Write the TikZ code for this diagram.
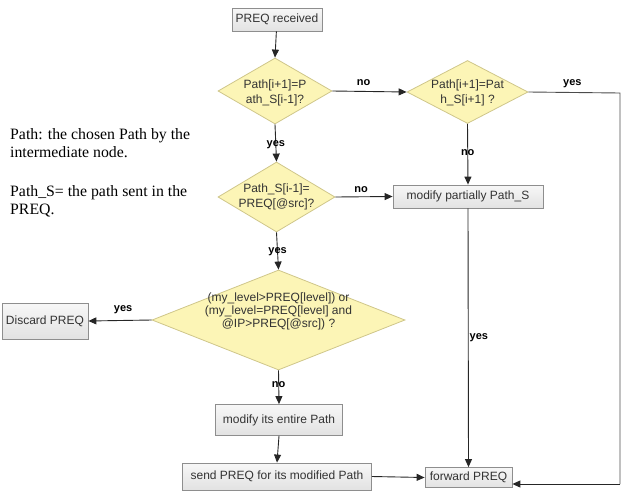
\documentclass[tikz,border=0pt]{standalone}
\usepackage{fontspec}
\setmainfont{Liberation Serif}
\newfontfamily\flowfont{Liberation Sans}
\usetikzlibrary{shapes.geometric,arrows.meta}

\definecolor{boxline}{HTML}{8E8E8E}
\definecolor{boxtop}{HTML}{F7F7F7}
\definecolor{boxbot}{HTML}{E2E2E2}
\definecolor{boxtext}{HTML}{333333}
\definecolor{dline}{HTML}{CFC68A}
\definecolor{dfill}{HTML}{FCF5B6}

\begin{document}
\begin{tikzpicture}[x=1pt,y=-1pt,
  every node/.style={font=\flowfont\fontsize{12}{15}\selectfont, text=boxtext},
  stepbox/.style={draw=boxline, top color=boxtop, bottom color=boxbot,
                  inner sep=0pt, line width=0.8pt},
  decision/.style={diamond, draw=dline, fill=dfill, inner sep=0pt,
                   line width=0.8pt},
  dtext/.style={align=center, inner sep=0pt},
  flow/.style={draw=black!85, line width=0.9pt,
               -{Triangle[length=8pt,width=7pt]}},
  plainline/.style={draw=black!70, line width=0.9pt},
  lbl/.style={font=\flowfont\bfseries\fontsize{11}{12}\selectfont,
              text=black, inner sep=0pt},
  note/.style={font=\fontsize{15.8}{18}\selectfont, text=black,
               align=left, inner sep=0pt, anchor=base west}
]
\useasboundingbox (0,0) rectangle (621,490);

% process boxes
\node[stepbox, minimum width=90pt, minimum height=23pt] (recv) at (277,19.5) {PREQ received};
\node[stepbox, minimum width=150pt, minimum height=23pt] (mp) at (468,196.5) {modify partially Path\_S};
\node[stepbox, minimum width=86pt, minimum height=36pt] (disc) at (45,321) {Discard PREQ};
\node[stepbox, minimum width=127pt, minimum height=31pt] (me) at (279,420) {modify its entire Path};
\node[stepbox, minimum width=189pt, minimum height=27pt] (send) at (277,476.5) {send PREQ for its modified Path};
\node[stepbox, minimum width=87pt, minimum height=20pt] (fwd) at (468.5,477.5) {forward PREQ};

% decisions
\node[decision, minimum width=114pt, minimum height=66pt] (d1) at (275,91) {};
\node[dtext] (t1) at (275,93) {Path[i+1]=P\\ath\_S[i-1]?};
\node[decision, minimum width=121pt, minimum height=63pt] (d2) at (467.5,92) {};
\node[dtext] (t2) at (467.5,93) {Path[i+1]=Pat\\h\_S[i+1] ?};
\node[decision, minimum width=117pt, minimum height=70pt] (d3) at (276.5,197) {};
\node[dtext] (t3) at (276.5,197) {Path\_S[i-1]=\\PREQ[@src]?};
\node[decision, minimum width=253pt, minimum height=100pt] (d4) at (278.5,320) {};
\node[dtext, font=\flowfont\fontsize{12}{13}\selectfont] (t4) at (278.5,311)
  {(my\_level>PREQ[level]) or\\(my\_level=PREQ[level] and\\@IP>PREQ[@src]) ?};

% side notes (anchored at the baseline of their last line)
\node[note] (n1) at (10,157) {Path: the chosen Path by the\\intermediate node.};
\node[note] (n2) at (10,214) {Path\_S= the path sent in the\\PREQ.};

% connectors
\coordinate (rc) at (620,93);
\coordinate (rb) at (620,484);
\draw[flow] (recv) -- (d1.north);
\draw[flow] (d1.east) -- node[lbl, above=5pt, pos=0.42] (l1) {no} (d2.west);
\draw[flow] (d1.south) -- node[lbl, pos=0.55] (l2) {yes} (d3.north);
\draw[plainline] (d2.east) -- node[lbl, above=4pt, pos=0.48] (l3) {yes} (rc) -- (rb);
\draw[flow] (rb) -- (fwd.east |- rb);
\draw[flow] (d2.south) -- node[lbl, pos=0.48] (l4) {no} (mp.north);
\draw[flow] (d3.east) -- node[lbl, above=4pt, pos=0.45] (l5) {no} (mp.west);
\draw[flow] (mp.south) -- node[lbl, right=1pt, pos=0.5] (l6) {yes} (fwd.north);
\draw[flow] (d3.south) -- node[lbl, pos=0.53] (l7) {yes} (d4.north);
\draw[flow] (d4.west) -- node[lbl, above=6pt, pos=0.45] (l8) {yes} (disc.east);
\draw[flow] (d4.south) -- node[lbl, pos=0.43] (l9) {no} (me.north);
\draw[flow] (me.south) -- (send.north);
\draw[flow] (send.east) -- (fwd.west);
\end{tikzpicture}
\end{document}
